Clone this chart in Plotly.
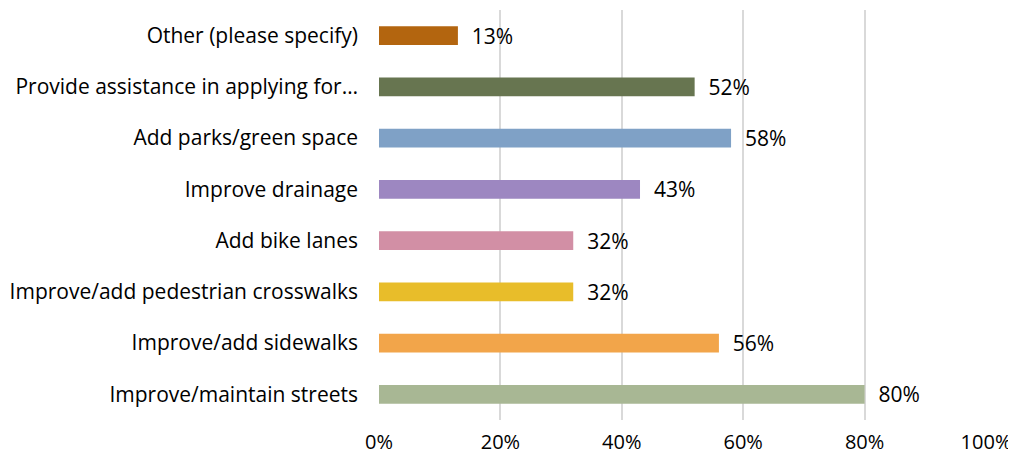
"""
    Survey priorities bar chart
"""

import plotly.graph_objs as go

categories = [
    "Improve/maintain streets",
    "Improve/add sidewalks",
    "Improve/add pedestrian crosswalks",
    "Add bike lanes",
    "Improve drainage",
    "Add parks/green space",
    "Provide assistance in applying for…",
    "Other (please specify)",
]
values = [0.80, 0.56, 0.32, 0.32, 0.43, 0.58, 0.52, 0.13]
bar_colors = ["#A8B794", "#F2A54A", "#E8BD2A", "#D28FA5",
              "#9D87C1", "#7FA1C6", "#677550", "#B3650F"]
x_ticks = [0, 0.2, 0.4, 0.6, 0.8, 1.0]
x_tick_labels = ["0%", "20%", "40%", "60%", "80%", "100%"]

FONT = "Open Sans, sans-serif"

data = [go.Bar(
    y=categories, x=values, orientation="h",
    marker={"color": bar_colors, "line": {"width": 0}},
    width=0.37,
    text=["  {:.0%}".format(v) for v in values],
    textposition="outside", cliponaxis=False, constraintext="none",
    textfont={"family": FONT, "size": 21, "color": "#000000"},
)]

# the page body adds an 8px offset, so the figure is sized 8px smaller
layout = go.Layout(
    width=1008, height=448,
    margin={"l": 371, "r": 30, "t": 2, "b": 36},
    paper_bgcolor="white", plot_bgcolor="white",
    showlegend=False,
    font={"family": FONT, "size": 21, "color": "#000000"},
    xaxis={"range": [0, 1], "tickvals": x_ticks, "ticktext": x_tick_labels,
           "showgrid": True, "gridcolor": "#D9D9D9", "gridwidth": 2,
           "zeroline": False, "showline": False, "ticks": "",
           "tickfont": {"size": 20},
           "ticklabelstandoff": 8, "automargin": False},
    yaxis={"showgrid": False, "zeroline": False, "ticks": "",
           "ticklabelstandoff": 20, "range": [-0.5, 7.5],
           "automargin": False},
    bargap=0.63,
)

fig = go.Figure(data=data, layout=layout)
fig.write_html("out.html")
